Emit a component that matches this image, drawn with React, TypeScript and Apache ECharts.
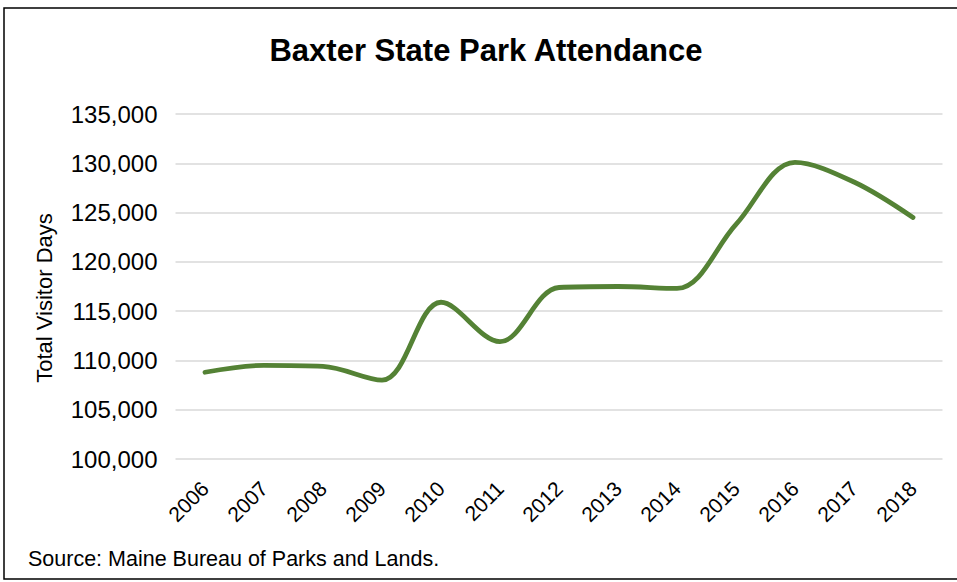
import React, { useEffect, useRef } from "react";
import * as echarts from "echarts";

const years = ["2006", "2007", "2008", "2009", "2010", "2011", "2012", "2013", "2014", "2015", "2016", "2017", "2018"];
const visitorDays = [108800, 109500, 109400, 108000, 115900, 111900, 117400, 117500, 117300, 123800, 130100, 128100, 124500];
const titleText = "Baxter State Park Attendance";
const yAxisName = "Total Visitor Days";
const sourceText = "Source: Maine Bureau of Parks and Lands.";

export default function App() {
  const ref = useRef<HTMLDivElement>(null);
  useEffect(() => {
    const chart = echarts.init(ref.current!, undefined, { renderer: "svg" });
    const font = "Liberation Sans";
    chart.setOption({
      animation: false,
      backgroundColor: "#ffffff",
      textStyle: { fontFamily: font },
      graphic: [
        {
          type: "rect",
          shape: { x: 4, y: 8, width: 960, height: 571 },
          style: { fill: "none", stroke: "#000", lineWidth: 1.5 },
          silent: true,
        },
        {
          type: "text",
          x: 486,
          y: 50,
          style: { text: titleText, fontFamily: font, fontWeight: "bold", fontSize: 31, fill: "#000", align: "center", verticalAlign: "middle" },
        },
        {
          type: "text",
          x: 44,
          y: 298,
          rotation: Math.PI / 2,
          style: { text: yAxisName, fontFamily: font, fontSize: 22, fill: "#000", align: "center", verticalAlign: "middle" },
        },
        {
          type: "text",
          x: 28,
          y: 559,
          style: { text: sourceText, fontFamily: font, fontSize: 21.5, fill: "#000", align: "left", verticalAlign: "middle" },
        },
      ],
      grid: { left: 175.5, right: 14.5, top: 114, bottom: 123 },
      xAxis: {
        type: "category",
        data: years,
        boundaryGap: true,
        axisLine: { show: false },
        axisTick: { show: false },
        axisLabel: { rotate: 45, fontSize: 21, color: "#000", margin: 26, fontFamily: font },
      },
      yAxis: {
        type: "value",
        min: 100000,
        max: 135000,
        interval: 5000,
        axisLine: { show: false },
        axisTick: { show: false },
        axisLabel: {
          fontSize: 24,
          color: "#000",
          margin: 18,
          fontFamily: font,
          formatter: (v: number) => v.toLocaleString("en-US"),
        },
        splitLine: { lineStyle: { color: "#d9d9d9", width: 1.5 } },
      },
      series: [
        {
          type: "line",
          data: visitorDays,
          smooth: 0.35,
          symbol: "none",
          lineStyle: { color: "#548235", width: 4.8, cap: "round" },
        },
      ],
    });
    return () => chart.dispose();
  }, []);
  return <div ref={ref} style={{ position: "fixed", left: 0, top: 0, width: 957, height: 582 }} />;
}
